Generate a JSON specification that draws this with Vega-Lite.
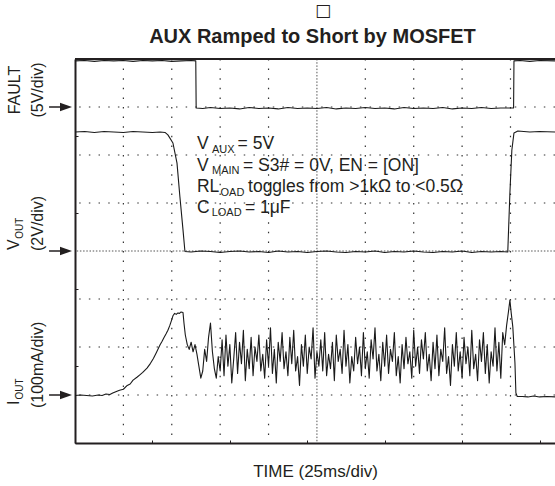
{
  "$schema": "https://vega.github.io/schema/vega-lite/v6.json",
  "autosize": "none",
  "padding": {"left": 75, "top": 59, "right": 0, "bottom": 43},
  "width": 480,
  "height": 384,
  "config": {"font": "Liberation Sans", "view": {"stroke": null}},
  "layer": [
    {
      "data": {"values": [{"t":25},{"t":50},{"t":75},{"t":100},{"t":150},{"t":175},{"t":200},{"t":225}]},
      "mark": {"type": "rule", "color": "#333333", "strokeWidth": 1.2, "strokeDash": [1.5, 8.1]},
      "encoding": {"x": {"field": "t", "type": "quantitative"}}
    },
    {
      "data": {"values": [{"lvl":1},{"lvl":2},{"lvl":3},{"lvl":5},{"lvl":6},{"lvl":7}]},
      "mark": {"type": "rule", "color": "#333333", "strokeWidth": 1.2, "strokeDash": [1.5, 8.18]},
      "encoding": {"y": {"field": "lvl", "type": "quantitative"}}
    },
    {
      "data": {"values": [{}]},
      "mark": {"type": "rule", "color": "#555555", "strokeWidth": 1, "strokeDash": [1.5, 1.7]},
      "encoding": {"x": {"datum": 125}}
    },
    {
      "data": {"values": [{}]},
      "mark": {"type": "rule", "color": "#555555", "strokeWidth": 1, "strokeDash": [1.5, 1.7]},
      "encoding": {"y": {"datum": 4}}
    },
    {
      "data": {"values": [
        {"ch":"F","t":0,"v":7.96},{"ch":"F","t":5,"v":7.97},{"ch":"F","t":10,"v":7.95},{"ch":"F","t":15,"v":7.97},{"ch":"F","t":20,"v":7.96},{"ch":"F","t":25,"v":7.97},{"ch":"F","t":30,"v":7.95},{"ch":"F","t":35,"v":7.97},{"ch":"F","t":40,"v":7.96},{"ch":"F","t":45,"v":7.97},{"ch":"F","t":50,"v":7.95},{"ch":"F","t":55,"v":7.96},{"ch":"F","t":60,"v":7.97},{"ch":"F","t":62.4,"v":7.96},{"ch":"F","t":62.6,"v":6.98},{"ch":"F","t":66,"v":6.97},{"ch":"F","t":70,"v":6.99},{"ch":"F","t":75,"v":6.97},{"ch":"F","t":80,"v":6.98},{"ch":"F","t":85,"v":6.96},{"ch":"F","t":90,"v":6.99},{"ch":"F","t":95,"v":6.97},{"ch":"F","t":100,"v":6.98},{"ch":"F","t":105,"v":6.96},{"ch":"F","t":110,"v":6.99},{"ch":"F","t":115,"v":6.97},{"ch":"F","t":120,"v":6.98},{"ch":"F","t":125,"v":6.97},{"ch":"F","t":130,"v":6.99},{"ch":"F","t":135,"v":6.96},{"ch":"F","t":140,"v":6.98},{"ch":"F","t":145,"v":6.97},{"ch":"F","t":150,"v":6.99},{"ch":"F","t":155,"v":6.97},{"ch":"F","t":160,"v":6.98},{"ch":"F","t":165,"v":6.96},{"ch":"F","t":170,"v":6.99},{"ch":"F","t":175,"v":6.97},{"ch":"F","t":180,"v":6.98},{"ch":"F","t":185,"v":6.97},{"ch":"F","t":190,"v":6.99},{"ch":"F","t":195,"v":6.96},{"ch":"F","t":200,"v":6.98},{"ch":"F","t":205,"v":6.97},{"ch":"F","t":210,"v":6.99},{"ch":"F","t":215,"v":6.97},{"ch":"F","t":220,"v":6.98},{"ch":"F","t":226.6,"v":6.98},{"ch":"F","t":226.8,"v":7.96},{"ch":"F","t":230,"v":7.97},{"ch":"F","t":235,"v":7.95},{"ch":"F","t":240,"v":7.97},{"ch":"F","t":248,"v":7.96},
        {"ch":"V","t":0,"v":6.48},{"ch":"V","t":5,"v":6.49},{"ch":"V","t":10,"v":6.47},{"ch":"V","t":15,"v":6.49},{"ch":"V","t":20,"v":6.48},{"ch":"V","t":25,"v":6.47},{"ch":"V","t":30,"v":6.49},{"ch":"V","t":35,"v":6.48},{"ch":"V","t":40,"v":6.47},{"ch":"V","t":44,"v":6.48},{"ch":"V","t":46.5,"v":6.47},{"ch":"V","t":48,"v":6.42},{"ch":"V","t":50.6,"v":6.25},{"ch":"V","t":52.7,"v":5.83},{"ch":"V","t":54.2,"v":5.13},{"ch":"V","t":55.8,"v":4.44},{"ch":"V","t":56.8,"v":3.99},{"ch":"V","t":60,"v":3.98},{"ch":"V","t":65,"v":4.0},{"ch":"V","t":70,"v":3.99},{"ch":"V","t":75,"v":3.97},{"ch":"V","t":80,"v":3.99},{"ch":"V","t":85,"v":4.0},{"ch":"V","t":90,"v":3.98},{"ch":"V","t":95,"v":3.99},{"ch":"V","t":100,"v":3.97},{"ch":"V","t":105,"v":4.0},{"ch":"V","t":110,"v":3.98},{"ch":"V","t":115,"v":3.99},{"ch":"V","t":120,"v":3.97},{"ch":"V","t":125,"v":3.99},{"ch":"V","t":130,"v":4.0},{"ch":"V","t":135,"v":3.98},{"ch":"V","t":140,"v":3.97},{"ch":"V","t":145,"v":3.99},{"ch":"V","t":150,"v":3.98},{"ch":"V","t":155,"v":4.0},{"ch":"V","t":160,"v":3.97},{"ch":"V","t":165,"v":3.99},{"ch":"V","t":170,"v":3.98},{"ch":"V","t":175,"v":4.0},{"ch":"V","t":180,"v":3.98},{"ch":"V","t":185,"v":3.97},{"ch":"V","t":190,"v":3.99},{"ch":"V","t":195,"v":3.98},{"ch":"V","t":200,"v":4.0},{"ch":"V","t":205,"v":3.97},{"ch":"V","t":210,"v":3.99},{"ch":"V","t":215,"v":3.98},{"ch":"V","t":220,"v":3.99},{"ch":"V","t":223.6,"v":3.98},{"ch":"V","t":224.7,"v":5.21},{"ch":"V","t":225.7,"v":6.1},{"ch":"V","t":226.8,"v":6.46},{"ch":"V","t":228.8,"v":6.5},{"ch":"V","t":235,"v":6.48},{"ch":"V","t":240,"v":6.49},{"ch":"V","t":248,"v":6.48},
        {"ch":"I","t":0,"v":0.99},{"ch":"I","t":3,"v":1.0},{"ch":"I","t":6,"v":0.99},{"ch":"I","t":9,"v":0.98},{"ch":"I","t":12,"v":1.0},{"ch":"I","t":14,"v":0.99},{"ch":"I","t":16,"v":1.02},{"ch":"I","t":18,"v":1.01},{"ch":"I","t":19.5,"v":1.04},{"ch":"I","t":21.7,"v":1.08},{"ch":"I","t":23,"v":1.1},{"ch":"I","t":25,"v":1.12},{"ch":"I","t":27,"v":1.2},{"ch":"I","t":28.5,"v":1.23},{"ch":"I","t":30,"v":1.31},{"ch":"I","t":32,"v":1.37},{"ch":"I","t":33.5,"v":1.42},{"ch":"I","t":35,"v":1.47},{"ch":"I","t":37.2,"v":1.56},{"ch":"I","t":39,"v":1.66},{"ch":"I","t":40.5,"v":1.76},{"ch":"I","t":42,"v":1.88},{"ch":"I","t":43.9,"v":2.04},{"ch":"I","t":45,"v":2.12},{"ch":"I","t":46,"v":2.2},{"ch":"I","t":47,"v":2.27},{"ch":"I","t":48,"v":2.35},{"ch":"I","t":49,"v":2.45},{"ch":"I","t":50,"v":2.57},{"ch":"I","t":50.6,"v":2.65},{"ch":"I","t":51.5,"v":2.7},{"ch":"I","t":52.3,"v":2.68},{"ch":"I","t":53.2,"v":2.71},{"ch":"I","t":54,"v":2.7},{"ch":"I","t":54.8,"v":2.73},{"ch":"I","t":55.8,"v":2.72},{"ch":"I","t":56.3,"v":2.5},
        {"ch":"I","t":57,"v":2.25},{"ch":"I","t":58,"v":2.05},{"ch":"I","t":59,"v":1.95},{"ch":"I","t":60,"v":2.1},{"ch":"I","t":61,"v":1.9},{"ch":"I","t":62,"v":2.05},{"ch":"I","t":63,"v":1.85},{"ch":"I","t":64,"v":1.6},{"ch":"I","t":65,"v":1.35},{"ch":"I","t":66,"v":1.5},{"ch":"I","t":67,"v":1.95},{"ch":"I","t":68,"v":1.7},{"ch":"I","t":69,"v":2.2},{"ch":"I","t":70,"v":2.5},{"ch":"I","t":71,"v":1.9},{"ch":"I","t":72,"v":1.55},{"ch":"I","t":73,"v":1.35},{"ch":"I","t":74,"v":1.8},{"ch":"I","t":75,"v":1.5},{"ch":"I","t":76,"v":2.15},{"ch":"I","t":77,"v":1.4},{"ch":"I","t":78,"v":2.25},{"ch":"I","t":79,"v":1.6},{"ch":"I","t":80,"v":2.05},{"ch":"I","t":81,"v":1.25},{"ch":"I","t":82,"v":1.75},{"ch":"I","t":83,"v":2.3},{"ch":"I","t":84,"v":1.45},{"ch":"I","t":85,"v":2.1},{"ch":"I","t":86,"v":1.65},{"ch":"I","t":87,"v":2.35},{"ch":"I","t":88,"v":1.3},{"ch":"I","t":89,"v":1.95},{"ch":"I","t":90,"v":1.55},{"ch":"I","t":91,"v":2.2},{"ch":"I","t":92,"v":1.4},{"ch":"I","t":93,"v":2.0},{"ch":"I","t":94,"v":1.7},{"ch":"I","t":95,"v":2.25},{"ch":"I","t":96,"v":1.5},{"ch":"I","t":97,"v":1.85},{"ch":"I","t":98,"v":1.35},{"ch":"I","t":99,"v":2.15},{"ch":"I","t":100,"v":1.6},{"ch":"I","t":101,"v":2.4},{"ch":"I","t":102,"v":1.45},{"ch":"I","t":103,"v":1.95},{"ch":"I","t":104,"v":1.25},{"ch":"I","t":105,"v":2.1},{"ch":"I","t":106,"v":1.7},{"ch":"I","t":107,"v":2.3},{"ch":"I","t":108,"v":1.55},{"ch":"I","t":109,"v":1.9},{"ch":"I","t":110,"v":1.4},{"ch":"I","t":111,"v":2.2},{"ch":"I","t":112,"v":1.65},{"ch":"I","t":113,"v":2.35},{"ch":"I","t":114,"v":1.5},{"ch":"I","t":115,"v":1.8},{"ch":"I","t":116,"v":1.2},{"ch":"I","t":117,"v":2.05},{"ch":"I","t":118,"v":1.6},{"ch":"I","t":119,"v":2.25},{"ch":"I","t":120,"v":1.45},{"ch":"I","t":121,"v":2.0},{"ch":"I","t":122,"v":1.75},{"ch":"I","t":123,"v":2.4},{"ch":"I","t":124,"v":1.35},{"ch":"I","t":125,"v":1.9},{"ch":"I","t":126,"v":1.6},{"ch":"I","t":127,"v":2.15},{"ch":"I","t":128,"v":1.5},{"ch":"I","t":129,"v":2.3},{"ch":"I","t":130,"v":1.4},{"ch":"I","t":131,"v":1.85},{"ch":"I","t":132,"v":1.55},{"ch":"I","t":133,"v":2.1},{"ch":"I","t":134,"v":1.3},{"ch":"I","t":135,"v":2.25},{"ch":"I","t":136,"v":1.7},{"ch":"I","t":137,"v":1.95},{"ch":"I","t":138,"v":1.45},{"ch":"I","t":139,"v":2.35},{"ch":"I","t":140,"v":1.6},{"ch":"I","t":141,"v":2.05},{"ch":"I","t":142,"v":1.25},{"ch":"I","t":143,"v":1.8},{"ch":"I","t":144,"v":1.5},{"ch":"I","t":145,"v":2.2},{"ch":"I","t":146,"v":1.65},{"ch":"I","t":147,"v":2.0},{"ch":"I","t":148,"v":1.4},{"ch":"I","t":149,"v":2.3},{"ch":"I","t":150,"v":1.55},{"ch":"I","t":151,"v":1.9},{"ch":"I","t":152,"v":1.35},{"ch":"I","t":153,"v":2.15},{"ch":"I","t":154,"v":1.75},{"ch":"I","t":155,"v":2.4},{"ch":"I","t":156,"v":1.5},{"ch":"I","t":157,"v":1.85},{"ch":"I","t":158,"v":1.3},{"ch":"I","t":159,"v":2.1},{"ch":"I","t":160,"v":1.6},{"ch":"I","t":161,"v":2.25},{"ch":"I","t":162,"v":1.45},{"ch":"I","t":163,"v":1.95},{"ch":"I","t":164,"v":1.7},{"ch":"I","t":165,"v":2.3},{"ch":"I","t":166,"v":1.4},{"ch":"I","t":167,"v":1.8},{"ch":"I","t":168,"v":1.25},{"ch":"I","t":169,"v":2.05},{"ch":"I","t":170,"v":1.55},{"ch":"I","t":171,"v":2.2},{"ch":"I","t":172,"v":1.65},{"ch":"I","t":173,"v":1.9},{"ch":"I","t":174,"v":1.35},{"ch":"I","t":175,"v":2.35},{"ch":"I","t":176,"v":1.6},{"ch":"I","t":177,"v":2.0},{"ch":"I","t":178,"v":1.45},{"ch":"I","t":179,"v":2.15},{"ch":"I","t":180,"v":1.75},{"ch":"I","t":181,"v":2.3},{"ch":"I","t":182,"v":1.5},{"ch":"I","t":183,"v":1.85},{"ch":"I","t":184,"v":1.3},{"ch":"I","t":185,"v":2.1},{"ch":"I","t":186,"v":1.55},{"ch":"I","t":187,"v":2.25},{"ch":"I","t":188,"v":1.4},{"ch":"I","t":189,"v":1.95},{"ch":"I","t":190,"v":1.7},{"ch":"I","t":191,"v":2.4},{"ch":"I","t":192,"v":1.45},{"ch":"I","t":193,"v":1.8},{"ch":"I","t":194,"v":1.2},{"ch":"I","t":195,"v":2.05},{"ch":"I","t":196,"v":1.6},{"ch":"I","t":197,"v":2.3},{"ch":"I","t":198,"v":1.5},{"ch":"I","t":199,"v":1.9},{"ch":"I","t":200,"v":1.35},{"ch":"I","t":201,"v":2.2},{"ch":"I","t":202,"v":1.65},{"ch":"I","t":203,"v":2.0},{"ch":"I","t":204,"v":1.4},{"ch":"I","t":205,"v":2.35},{"ch":"I","t":206,"v":1.55},{"ch":"I","t":207,"v":1.85},{"ch":"I","t":208,"v":1.3},{"ch":"I","t":209,"v":2.15},{"ch":"I","t":210,"v":1.7},{"ch":"I","t":211,"v":2.3},{"ch":"I","t":212,"v":1.45},{"ch":"I","t":213,"v":2.05},{"ch":"I","t":214,"v":1.25},{"ch":"I","t":215,"v":1.9},{"ch":"I","t":216,"v":1.6},{"ch":"I","t":217,"v":2.4},{"ch":"I","t":218,"v":1.5},{"ch":"I","t":219,"v":2.1},{"ch":"I","t":220,"v":1.35},{"ch":"I","t":221,"v":2.3},{"ch":"I","t":222,"v":2.05},{"ch":"I","t":223,"v":2.45},
        {"ch":"I","t":224,"v":2.75},{"ch":"I","t":224.7,"v":2.98},{"ch":"I","t":225.4,"v":2.7},{"ch":"I","t":226.2,"v":2.42},{"ch":"I","t":227.3,"v":1.67},{"ch":"I","t":227.8,"v":1.04},{"ch":"I","t":228.5,"v":0.97},{"ch":"I","t":231,"v":0.97},{"ch":"I","t":234,"v":0.96},{"ch":"I","t":237,"v":0.98},{"ch":"I","t":240,"v":0.96},{"ch":"I","t":244,"v":0.97},{"ch":"I","t":248,"v":0.96}
      ]},
      "mark": {"type": "line", "color": "#1a1a1a", "strokeWidth": 1.1, "strokeJoin": "round"},
      "encoding": {
        "x": {"field": "t", "type": "quantitative", "scale": {"domain": [0, 248], "nice": false, "zero": false},
          "axis": {"title": "TIME (25ms/div)", "titleFont": "Liberation Sans", "titleFontSize": 17, "titleFontWeight": "normal", "titleColor": "#231f20", "titlePadding": 20,
            "labels": false, "values": [0,5,10,15,20,25,30,35,40,45,50,55,60,65,70,75,80,85,90,95,100,105,110,115,120,125,130,135,140,145,150,155,160,165,170,175,180,185,190,195,200,205,210,215,220,225,230,235,240,245],
            "tickSize": -3, "tickColor": "#231f20", "tickWidth": 1, "domainColor": "#231f20", "domainWidth": 2, "grid": false}},
        "y": {"field": "v", "type": "quantitative", "scale": {"domain": [0, 8], "nice": false, "zero": false},
          "axis": {"title": null, "labels": false,
            "values": [0,0.2,0.4,0.6,0.8,1,1.2,1.4,1.6,1.8,2,2.2,2.4,2.6,2.8,3,3.2,3.4,3.6,3.8,4,4.2,4.4,4.6,4.8,5,5.2,5.4,5.6,5.8,6,6.2,6.4,6.6,6.8,7,7.2,7.4,7.6,7.8,8],
            "tickSize": -3, "tickColor": "#231f20", "tickWidth": 1, "domainColor": "#231f20", "domainWidth": 2, "grid": false}},
        "detail": {"field": "ch", "type": "nominal"}
      }
    },
    {
      "data": {"values": [{}]},
      "mark": {"type": "rule", "color": "#231f20", "strokeWidth": 2},
      "encoding": {"y": {"datum": 8}}
    },
    {
      "data": {"values": [{"lvl": 7}, {"lvl": 4}, {"lvl": 1}]},
      "mark": {"type": "rule", "color": "#231f20", "strokeWidth": 1.5},
      "encoding": {"x": {"datum": -13.4}, "x2": {"datum": -6.5}, "y": {"field": "lvl", "type": "quantitative"}}
    },
    {
      "data": {"values": [{"lvl": 7}, {"lvl": 4}, {"lvl": 1}]},
      "mark": {"type": "point", "shape": "M -1 -0.7 L 1 0 L -1 0.7 Z", "size": 144, "filled": true, "color": "#231f20", "opacity": 1},
      "encoding": {"x": {"datum": -4.65}, "y": {"field": "lvl", "type": "quantitative"}}
    },
    {"data": {"values": [{}]}, "mark": {"type": "text", "text": "□", "font": "DejaVu Sans", "fontSize": 17, "align": "center", "baseline": "middle", "color": "#231f20"}, "encoding": {"x": {"datum": 128.1}, "y": {"datum": 8.99}}},
    {"data": {"values": [{}]}, "mark": {"type": "text", "text": "AUX Ramped to Short by MOSFET", "fontSize": 20, "fontWeight": "bold", "align": "center", "baseline": "alphabetic", "color": "#231f20"}, "encoding": {"x": {"datum": 122.7}, "y": {"datum": 8.333}}},

    {"data": {"values": [{}]}, "mark": {"type": "text", "text": "V", "fontSize": 17.5, "align": "left", "baseline": "alphabetic", "color": "#231f20"}, "encoding": {"x": {"datum": 63.0}, "y": {"datum": 6.125}}},
    {"data": {"values": [{}]}, "mark": {"type": "text", "text": "AUX", "fontSize": 11, "align": "left", "baseline": "alphabetic", "color": "#231f20"}, "encoding": {"x": {"datum": 70.8}, "y": {"datum": 6.052}}},
    {"data": {"values": [{}]}, "mark": {"type": "text", "text": "= 5V", "fontSize": 17.5, "align": "left", "baseline": "alphabetic", "color": "#231f20"}, "encoding": {"x": {"datum": 84.0}, "y": {"datum": 6.125}}},

    {"data": {"values": [{}]}, "mark": {"type": "text", "text": "V", "fontSize": 17.5, "align": "left", "baseline": "alphabetic", "color": "#231f20"}, "encoding": {"x": {"datum": 63.0}, "y": {"datum": 5.667}}},
    {"data": {"values": [{}]}, "mark": {"type": "text", "text": "MAIN", "fontSize": 11, "align": "left", "baseline": "alphabetic", "color": "#231f20"}, "encoding": {"x": {"datum": 70.8}, "y": {"datum": 5.594}}},
    {"data": {"values": [{}]}, "mark": {"type": "text", "text": "= S3# = 0V, EN = [ON]", "fontSize": 17.5, "align": "left", "baseline": "alphabetic", "color": "#231f20"}, "encoding": {"x": {"datum": 86.8}, "y": {"datum": 5.667}}},

    {"data": {"values": [{}]}, "mark": {"type": "text", "text": "RL", "fontSize": 17.5, "align": "left", "baseline": "alphabetic", "color": "#231f20"}, "encoding": {"x": {"datum": 63.0}, "y": {"datum": 5.229}}},
    {"data": {"values": [{}]}, "mark": {"type": "text", "text": "OAD", "fontSize": 11, "align": "left", "baseline": "alphabetic", "color": "#231f20"}, "encoding": {"x": {"datum": 75.2}, "y": {"datum": 5.156}}},
    {"data": {"values": [{}]}, "mark": {"type": "text", "text": "toggles from >1kΩ to <0.5Ω", "fontSize": 17.5, "align": "left", "baseline": "alphabetic", "color": "#231f20"}, "encoding": {"x": {"datum": 89.4}, "y": {"datum": 5.229}}},

    {"data": {"values": [{}]}, "mark": {"type": "text", "text": "C", "fontSize": 17.5, "align": "left", "baseline": "alphabetic", "color": "#231f20"}, "encoding": {"x": {"datum": 63.0}, "y": {"datum": 4.792}}},
    {"data": {"values": [{}]}, "mark": {"type": "text", "text": "LOAD", "fontSize": 11, "align": "left", "baseline": "alphabetic", "color": "#231f20"}, "encoding": {"x": {"datum": 70.6}, "y": {"datum": 4.719}}},
    {"data": {"values": [{}]}, "mark": {"type": "text", "text": "= 1μF", "fontSize": 17.5, "align": "left", "baseline": "alphabetic", "color": "#231f20"}, "encoding": {"x": {"datum": 87.8}, "y": {"datum": 4.792}}},

    {"data": {"values": [{}]}, "mark": {"type": "text", "text": "FAULT", "fontSize": 16, "angle": 270, "align": "center", "baseline": "middle", "color": "#231f20"}, "encoding": {"x": {"datum": -31.0}, "y": {"datum": 7.354}}},
    {"data": {"values": [{}]}, "mark": {"type": "text", "text": "(5V/div)", "fontSize": 16, "angle": 270, "align": "center", "baseline": "middle", "color": "#231f20"}, "encoding": {"x": {"datum": -19.1}, "y": {"datum": 7.354}}},
    {"data": {"values": [{}]}, "mark": {"type": "text", "text": "V", "fontSize": 16, "angle": 270, "align": "left", "baseline": "middle", "color": "#231f20"}, "encoding": {"x": {"datum": -31.5}, "y": {"datum": 4.02}}},
    {"data": {"values": [{}]}, "mark": {"type": "text", "text": "OUT", "fontSize": 10, "angle": 270, "align": "left", "baseline": "middle", "color": "#231f20"}, "encoding": {"x": {"datum": -28.4}, "y": {"datum": 4.254}}},
    {"data": {"values": [{}]}, "mark": {"type": "text", "text": "(2V/div)", "fontSize": 16, "angle": 270, "align": "left", "baseline": "middle", "color": "#231f20"}, "encoding": {"x": {"datum": -19.1}, "y": {"datum": 4.0}}},
    {"data": {"values": [{}]}, "mark": {"type": "text", "text": "I", "fontSize": 16, "angle": 270, "align": "left", "baseline": "middle", "color": "#231f20"}, "encoding": {"x": {"datum": -31.5}, "y": {"datum": 0.792}}},
    {"data": {"values": [{}]}, "mark": {"type": "text", "text": "OUT", "fontSize": 10, "angle": 270, "align": "left", "baseline": "middle", "color": "#231f20"}, "encoding": {"x": {"datum": -28.4}, "y": {"datum": 0.904}}},
    {"data": {"values": [{}]}, "mark": {"type": "text", "text": "(100mA/div)", "fontSize": 16, "angle": 270, "align": "left", "baseline": "middle", "color": "#231f20"}, "encoding": {"x": {"datum": -19.1}, "y": {"datum": 0.729}}}
  ]
}
